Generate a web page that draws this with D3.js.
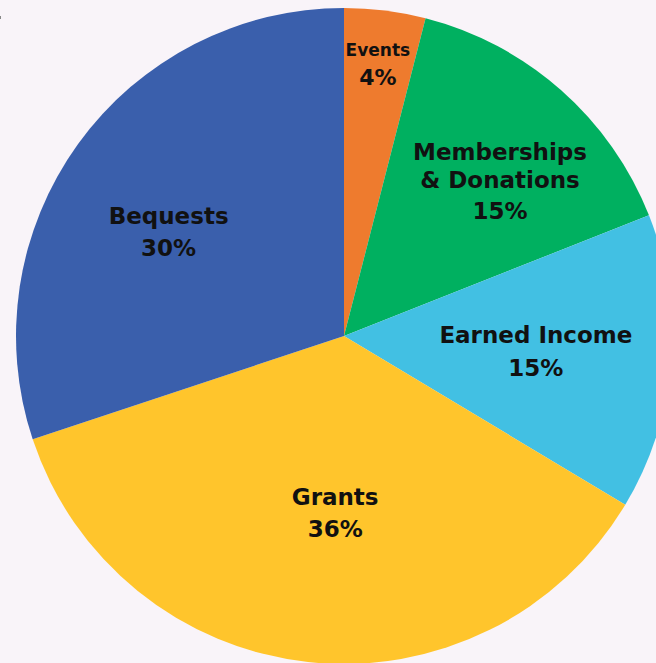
<!DOCTYPE html>
<html><head><meta charset="utf-8">
<script src="https://cdn.jsdelivr.net/npm/d3@7"></script>
<style>
html,body{margin:0;padding:0;background:#F9F4F9;}
svg{display:block;}
</style></head>
<body>
<svg id="chart" width="656" height="663"></svg>
<script>
const categories = ["Events", "Memberships\n& Donations", "Earned Income", "Grants", "Bequests"];
const values = [4, 15, 14.6, 36.3, 30.1];
const percentLabels = ["4%", "15%", "15%", "36%", "30%"];
const colors = ["#EE7B2E", "#00B060", "#42C0E3", "#FFC52C", "#3A5FAC"];

// layout tuning (label placement, not data): anchor = first line baseline
const labelRadius = [282, 235, 192, 169, 208];
const labelAngleShift = [-0.3, 0.2, -2.6, -3.3, -3.3];
const labelSize = [17, 23, 23, 23, 23];
const pctSize = [22, 23, 23, 23, 23];
const lineGap = [0, 28, 28, 28, 28];
const pctGap = [29, 31, 33, 32, 32];

const W = 656, H = 663, cx = 344, cy = 336, R = 328;
const svg = d3.select("#chart");
svg.append("rect").attr("width", W).attr("height", H).attr("fill", "#F9F4F9");
svg.append("rect").attr("x", 0).attr("y", 16).attr("width", 1).attr("height", 3).attr("fill", "#888");

const g = svg.append("g").attr("transform", `translate(${cx},${cy})`);
const pie = d3.pie().sort(null).value(d => d)(values);
const arc = d3.arc().innerRadius(0).outerRadius(R);

g.selectAll("path").data(pie).enter().append("path")
  .attr("d", arc).attr("fill", (d, i) => colors[i]);

const font = "'DejaVu Sans', sans-serif";
pie.forEach((d, i) => {
  const a = (d.startAngle + d.endAngle) / 2 + labelAngleShift[i] * Math.PI / 180;
  const r = labelRadius[i];
  const x = Math.sin(a) * r, y = -Math.cos(a) * r;
  const lines = categories[i].split("\n");
  let yy = y;
  lines.forEach((l, k) => {
    if (k > 0) yy += lineGap[i];
    g.append("text")
      .attr("x", x).attr("y", yy)
      .attr("text-anchor", "middle")
      .attr("font-family", font)
      .attr("font-weight", "bold")
      .attr("font-size", labelSize[i])
      .attr("fill", "#111")
      .text(l);
  });
  yy += pctGap[i];
  g.append("text")
    .attr("x", x).attr("y", yy)
    .attr("text-anchor", "middle")
    .attr("font-family", font)
    .attr("font-weight", "bold")
    .attr("font-size", pctSize[i])
    .attr("fill", "#111")
    .text(percentLabels[i]);
});
</script>
</body></html>
